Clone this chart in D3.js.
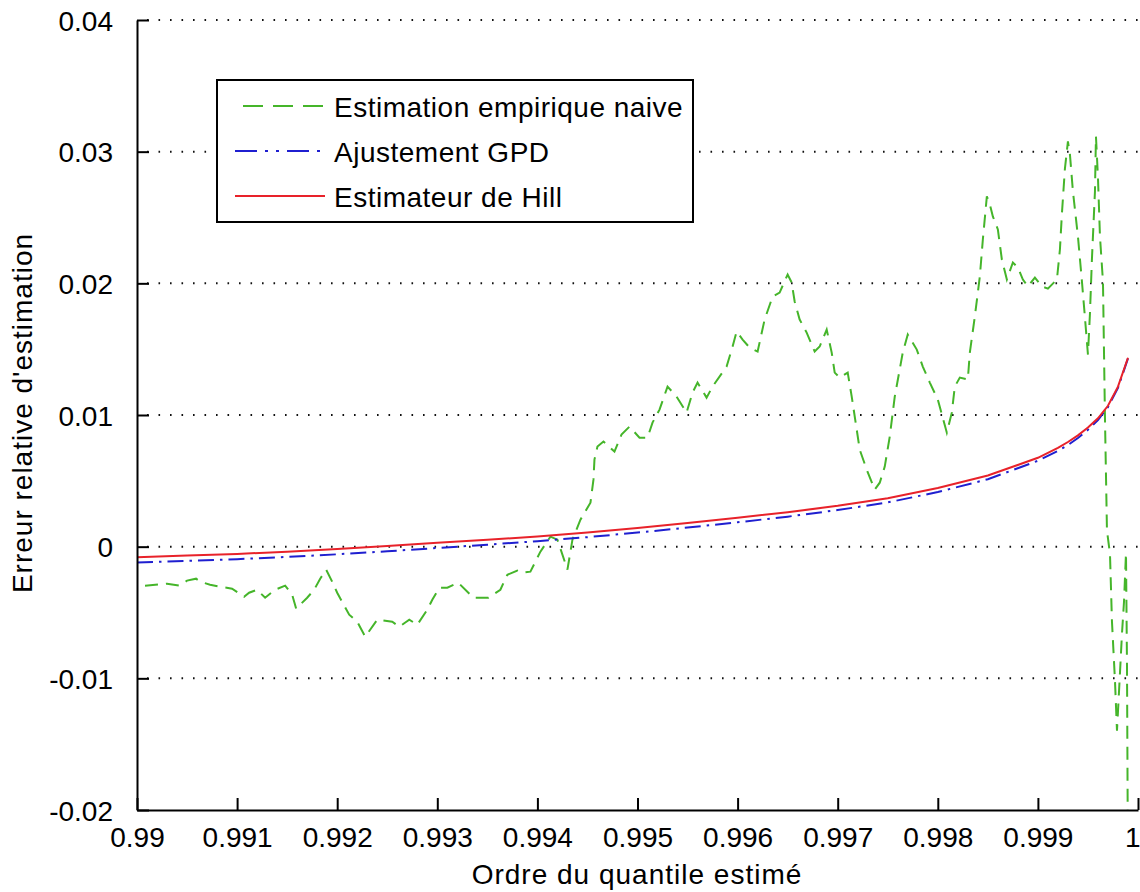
<!DOCTYPE html>
<html>
<head>
<meta charset="utf-8">
<script src="https://cdn.jsdelivr.net/npm/d3@7/dist/d3.min.js"></script>
<style>
  html, body { margin: 0; padding: 0; background: #fff; }
  svg { display: block; }
  text { font-family: "Liberation Sans", Arial, sans-serif; fill: #000; }
</style>
</head>
<body>
<svg id="chart" width="1140" height="892"></svg>
<script>
// Quantile orders and relative errors of the naive empirical estimate
const naiveOrders = [
  0.99008, 0.99030, 0.99042, 0.99050, 0.99059, 0.99063, 0.99073, 0.99083, 0.99095, 0.99107,
  0.99112, 0.99120, 0.99128, 0.99138, 0.99148, 0.99155, 0.99159, 0.99170, 0.99177, 0.99183,
  0.99189, 0.99195, 0.99200, 0.99212, 0.99220, 0.99228, 0.99240, 0.99255, 0.99262, 0.99272,
  0.99280, 0.99290, 0.99295, 0.99302, 0.99310, 0.99321, 0.99336, 0.99351, 0.99363, 0.99370,
  0.99380, 0.99385, 0.99393, 0.99403, 0.99413, 0.99420, 0.99430, 0.99435, 0.99443, 0.99453,
  0.99456, 0.99457, 0.99460, 0.99466, 0.99477, 0.99484, 0.99492, 0.99502, 0.99510, 0.99515,
  0.99522, 0.99530, 0.99539, 0.99549, 0.99555, 0.99560, 0.99569, 0.99575, 0.99589, 0.99595,
  0.99599, 0.99605, 0.99612, 0.99620, 0.99627, 0.99635, 0.99642, 0.99650, 0.99654, 0.99657,
  0.99662, 0.99669, 0.99677, 0.99682, 0.99689, 0.99694, 0.99697, 0.99702, 0.99710, 0.99714,
  0.99719, 0.99722, 0.99729, 0.99737, 0.99742, 0.99747, 0.99752, 0.99757, 0.99765, 0.99770,
  0.99779, 0.99785, 0.99792, 0.99800, 0.99809, 0.99814, 0.99817, 0.99822, 0.99830, 0.99832,
  0.99837, 0.99842, 0.99845, 0.99849, 0.99852, 0.99855, 0.99860, 0.99864, 0.99869, 0.99875,
  0.99880, 0.99885, 0.99890, 0.99897, 0.99904, 0.99910, 0.99919, 0.99922, 0.99924, 0.99927,
  0.99930, 0.99932, 0.99935, 0.99940, 0.99944, 0.99947, 0.99950, 0.99952, 0.99954, 0.99957,
  0.99958, 0.99960, 0.99962, 0.99965, 0.99967, 0.99969, 0.99972, 0.99974, 0.99977, 0.99979,
  0.99982, 0.99984, 0.99986, 0.99988, 0.99989, 0.99990
];
const naiveErrors = [
  -0.00296, -0.00281, -0.00296, -0.00258, -0.00243, -0.00266, -0.00289, -0.00304, -0.00319, -0.00380,
  -0.00350, -0.00327, -0.00388, -0.00327, -0.00296, -0.00365, -0.00471, -0.00388, -0.00327, -0.00243,
  -0.00175, -0.00266, -0.00350, -0.00517, -0.00570, -0.00684, -0.00555, -0.00570, -0.00608, -0.00555,
  -0.00593, -0.00479, -0.00403, -0.00312, -0.00312, -0.00274, -0.00388, -0.00388, -0.00327, -0.00213,
  -0.00182, -0.00198, -0.00190, -0.00038, 0.00076, 0.00053, -0.00175, 0.00053, 0.00205, 0.00334,
  0.00509, 0.00661, 0.00760, 0.00798, 0.00722, 0.00851, 0.00912, 0.00828, 0.00828, 0.00942,
  0.01041, 0.01216, 0.01140, 0.01018, 0.01170, 0.01246, 0.01132, 0.01216, 0.01368, 0.01520,
  0.01634, 0.01573, 0.01512, 0.01482, 0.01725, 0.01900, 0.01930, 0.02067, 0.02006, 0.01862,
  0.01725, 0.01626, 0.01482, 0.01520, 0.01649, 0.01474, 0.01322, 0.01284, 0.01322, 0.01140,
  0.00889, 0.00737, 0.00585, 0.00433, 0.00486, 0.00608, 0.00836, 0.01140, 0.01474, 0.01611,
  0.01497, 0.01368, 0.01246, 0.01117, 0.00866, 0.01018, 0.01216, 0.01284, 0.01269, 0.01474,
  0.01748, 0.02052, 0.02333, 0.02660, 0.02599, 0.02508, 0.02409, 0.02181, 0.02029, 0.02158,
  0.02120, 0.02029, 0.01976, 0.02044, 0.01976, 0.01960, 0.02029, 0.02257, 0.02530, 0.02872,
  0.03078, 0.02979, 0.02698, 0.02356, 0.02014, 0.01740, 0.01459, 0.01771, 0.02188, 0.02698,
  0.03116, 0.02804, 0.02356, 0.02014, 0.00980, 0.00122, -0.00053, -0.00570, -0.01018, -0.01398,
  -0.00957, -0.00660, -0.00420, -0.00050, -0.00900, -0.02500
];

// Quantile orders shared by the two tail estimators
const tailOrders = [
  0.9900, 0.9905, 0.9910, 0.9915, 0.9920, 0.9925, 0.9930, 0.9935, 0.9940, 0.9945,
  0.9950, 0.9955, 0.9960, 0.9965, 0.9970, 0.9975, 0.9980, 0.9985, 0.9990, 0.9992,
  0.9993, 0.9994, 0.9995, 0.9996, 0.9997, 0.9998, 0.9999
];
const gpdErrors = [
  -0.00120, -0.00108, -0.00095, -0.00078, -0.00058, -0.00035, -0.00010, 0.00015, 0.00042, 0.00072,
  0.00107, 0.00145, 0.00185, 0.00228, 0.00278, 0.00336, 0.00415, 0.00512, 0.00652, 0.00727,
  0.00772, 0.00825, 0.00888, 0.00962, 0.01060, 0.01206, 0.01430
];
const hillErrors = [
  -0.00080, -0.00068, -0.00055, -0.00038, -0.00018, 0.00005, 0.00030, 0.00052, 0.00078, 0.00108,
  0.00142, 0.00180, 0.00220, 0.00262, 0.00310, 0.00368, 0.00445, 0.00540, 0.00675, 0.00750,
  0.00795, 0.00845, 0.00905, 0.00975, 0.01070, 0.01215, 0.01435
];

// Axis ticks and their labels
const xTicks = [0.990, 0.991, 0.992, 0.993, 0.994, 0.995, 0.996, 0.997, 0.998, 0.999, 1.000];
const xTickLabels = ["0.99", "0.991", "0.992", "0.993", "0.994", "0.995", "0.996", "0.997", "0.998", "0.999", "1"];
const yTicks = [-0.02, -0.01, 0, 0.01, 0.02, 0.03, 0.04];
const yTickLabels = ["-0.02", "-0.01", "0", "0.01", "0.02", "0.03", "0.04"];

const seriesNames = ["Estimation empirique naive", "Ajustement GPD", "Estimateur de Hill"];
const xTitle = "Ordre du quantile estimé";
const yTitle = "Erreur relative d'estimation";

const svg = d3.select("#chart");
const plotLeft = 137, plotRight = 1138, plotTop = 20, plotBottom = 810;

const x = d3.scaleLinear().domain([0.99, 1]).range([plotLeft, plotRight]);
const y = d3.scaleLinear().domain([-0.02, 0.04]).range([plotBottom, plotTop]);

const FONT = 28;

// Horizontal dotted grid
svg.append("g")
  .selectAll("line")
  .data(yTicks.filter(v => v > -0.02))
  .join("line")
  .attr("x1", plotLeft + 10).attr("x2", plotRight)
  .attr("y1", d => y(d)).attr("y2", d => y(d))
  .attr("stroke", "#111")
  .attr("stroke-width", 2)
  .attr("stroke-dasharray", "1.6,9.9");

// Series lines, clipped to the axes box
svg.append("clipPath").attr("id", "plotClip")
  .append("rect").attr("x", plotLeft).attr("y", plotTop)
  .attr("width", plotRight - plotLeft + 2).attr("height", plotBottom - plotTop);

const plot = svg.append("g").attr("clip-path", "url(#plotClip)");

const line = d3.line().x(d => x(d[0])).y(d => y(d[1]));

const styles = [
  { color: "#45b52a", dash: "13,8" },
  { color: "#1f1fd0", dash: "16,6,2.5,6" },
  { color: "#e8222a", dash: null }
];

const series = [
  d3.zip(naiveOrders, naiveErrors),
  d3.zip(tailOrders, gpdErrors),
  d3.zip(tailOrders, hillErrors)
];

series.forEach((pts, i) => {
  const p = plot.append("path")
    .datum(pts)
    .attr("d", line)
    .attr("fill", "none")
    .attr("stroke", styles[i].color)
    .attr("stroke-width", 2);
  if (styles[i].dash) p.attr("stroke-dasharray", styles[i].dash);
});

// Axes (ticks pointing inward)
const xAxis = d3.axisBottom(x)
  .tickValues(xTicks)
  .tickFormat((d, i) => xTickLabels[i])
  .tickSizeInner(-12).tickSizeOuter(0).tickPadding(22);
const gx = svg.append("g").attr("transform", `translate(0,${plotBottom})`).call(xAxis);

const yAxis = d3.axisLeft(y)
  .tickValues(yTicks)
  .tickFormat((d, i) => yTickLabels[i])
  .tickSizeInner(-12).tickSizeOuter(0).tickPadding(24);
const gy = svg.append("g").attr("transform", `translate(${plotLeft},0)`).call(yAxis);

[gx, gy].forEach(g => {
  g.select(".domain").attr("stroke", "#000").attr("stroke-width", 2);
  g.selectAll(".tick line").attr("stroke", "#000").attr("stroke-width", 2);
  g.selectAll(".tick text")
    .attr("font-family", "'Liberation Sans', Arial, sans-serif")
    .attr("font-size", FONT).attr("fill", "#000");
});
gx.selectAll(".tick text").attr("dy", "0.55em");
// keep the last label inside the page edge
gx.selectAll(".tick text").filter((d, i) => i === xTicks.length - 1)
  .attr("text-anchor", "end").attr("dx", 2);
gy.selectAll(".tick text").attr("dy", "0.36em");

// Axis titles
svg.append("text")
  .attr("x", 637).attr("y", 884)
  .attr("text-anchor", "middle")
  .attr("font-size", FONT)
  .attr("letter-spacing", 1)
  .text(xTitle);

svg.append("text")
  .attr("transform", "translate(32,413) rotate(-90)")
  .attr("text-anchor", "middle")
  .attr("font-size", FONT)
  .attr("letter-spacing", 1)
  .text(yTitle);

// Legend
const legend = svg.append("g");
legend.append("rect")
  .attr("x", 217).attr("y", 80).attr("width", 476).attr("height", 142)
  .attr("fill", "#fff").attr("stroke", "#000").attr("stroke-width", 2);

const rowY = [106, 151, 196];
seriesNames.forEach((name, i) => {
  const l = legend.append("line")
    .attr("x1", i === 0 ? 243 : 235).attr("x2", 325)
    .attr("y1", rowY[i]).attr("y2", rowY[i])
    .attr("stroke", styles[i].color).attr("stroke-width", 2);
  if (styles[i].dash) l.attr("stroke-dasharray", i === 0 ? "20,10" : "22,8,3,8,3,8");
  legend.append("text")
    .attr("x", 334).attr("y", rowY[i] + 11)
    .attr("font-size", FONT)
    .attr("letter-spacing", 0.5)
    .text(name);
});
</script>
</body>
</html>
